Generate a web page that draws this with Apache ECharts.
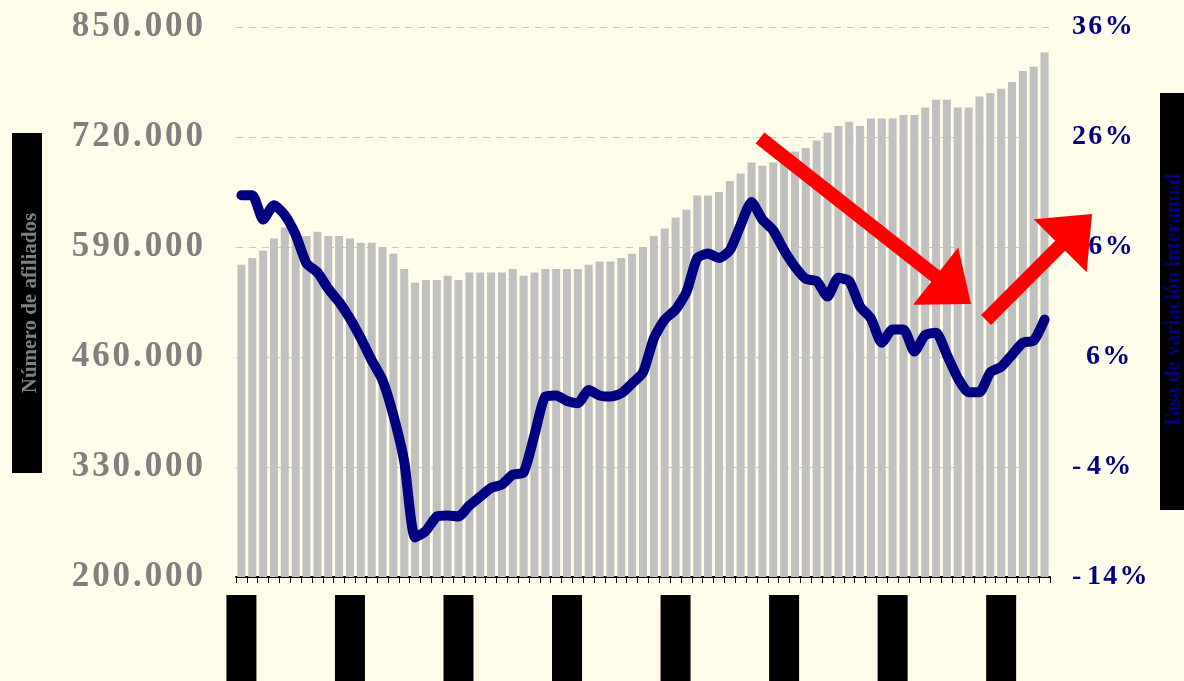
<!DOCTYPE html>
<html>
<head>
<meta charset="utf-8">
<script src="https://cdn.jsdelivr.net/npm/echarts@6/dist/echarts.min.js"></script>
<style>
  html, body { margin: 0; padding: 0; background: #FFFCEA; }
  #grafico { width: 1184px; height: 681px; }
</style>
</head>
<body>
<div id="grafico"></div>
<script>
// meses (las etiquetas del eje aparecen tapadas)
const categorias = [
  'ene-03','feb-03','mar-03','abr-03','may-03','jun-03','jul-03','ago-03','sep-03','oct-03','nov-03','dic-03',
  'ene-04','feb-04','mar-04','abr-04','may-04','jun-04','jul-04','ago-04','sep-04','oct-04','nov-04','dic-04',
  'ene-05','feb-05','mar-05','abr-05','may-05','jun-05','jul-05','ago-05','sep-05','oct-05','nov-05','dic-05',
  'ene-06','feb-06','mar-06','abr-06','may-06','jun-06','jul-06','ago-06','sep-06','oct-06','nov-06','dic-06',
  'ene-07','feb-07','mar-07','abr-07','may-07','jun-07','jul-07','ago-07','sep-07','oct-07','nov-07','dic-07',
  'ene-08','feb-08','mar-08','abr-08','may-08','jun-08','jul-08','ago-08','sep-08','oct-08','nov-08','dic-08',
  'ene-09','feb-09','mar-09'
];

// barras: miles
const afiliados = [
  569, 577, 586, 600, 613, 608, 603, 608, 603, 603,
  600, 595, 595, 590, 582, 564, 548, 551, 551, 556,
  551, 560, 560, 560, 560, 564, 556, 560, 564, 564,
  564, 564, 569, 573, 573, 577, 582, 590, 603, 612,
  625, 634, 651, 651, 655, 668, 677, 690, 686, 690,
  697, 703, 707, 716, 725, 733, 738, 733, 742, 742,
  742, 746, 746, 755, 764, 764, 755, 755, 768, 772,
  777, 785, 798, 803, 820
];

// linea: % interanual
const variacion = [
  20.7, 20.7, 18.5, 19.8, 18.9, 17.1, 14.5, 13.7, 12.2, 11.0,
  9.5, 7.7, 5.7, 3.9, 0.7, -3.5, -10.4, -9.8, -8.5, -8.4,
  -8.5, -7.5, -6.7, -5.9, -5.6, -4.7, -4.5, -1.1, 2.4, 2.5,
  2.0, 1.8, 3.0, 2.5, 2.4, 2.7, 3.6, 4.6, 7.7, 9.4,
  10.3, 11.9, 15.0, 15.4, 15.0, 15.7, 18.0, 20.1, 18.5, 17.5,
  15.7, 14.2, 13.1, 12.9, 11.5, 13.2, 12.9, 10.6, 9.5, 7.3,
  8.5, 8.5, 6.5, 8.0, 8.2, 6.2, 4.1, 2.8, 2.8, 4.6,
  5.1, 6.2, 7.3, 7.5, 9.4
];

// escalas de los ejes
const ejeIzq = [200, 850, 130];
const ejeDer = [-14, 36, 10];

const HAIR = '\u200A';
const espaciar = s => s.split('').join(HAIR);

// flecha como poligono
function flecha(x1, y1, x2, y2, ancho, anchoPunta, largoPunta) {
  const dx = x2 - x1, dy = y2 - y1;
  const l = Math.sqrt(dx * dx + dy * dy);
  const ux = dx / l, uy = dy / l;
  const nx = -uy, ny = ux;
  const bx = x2 - ux * largoPunta, by = y2 - uy * largoPunta;
  const p = (x, y, k) => [x + nx * k, y + ny * k];
  return {
    type: 'polygon',
    z: 100,
    shape: {
      points: [
        p(x1, y1, ancho / 2), p(bx, by, ancho / 2), p(bx, by, anchoPunta / 2),
        [x2, y2],
        p(bx, by, -anchoPunta / 2), p(bx, by, -ancho / 2), p(x1, y1, -ancho / 2)
      ]
    },
    style: { fill: '#FF0000' }
  };
}

const chart = echarts.init(document.getElementById('grafico'));

const option = {
  backgroundColor: '#FFFCEA',
  animation: false,
  title: {
    text: '(Afiliados a la Seguridad Social y tasa de variación interanual)',
    left: 243,
    top: -34,
    textStyle: {
      fontFamily: 'Liberation Serif',
      fontWeight: 'bold',
      fontSize: 29,
      color: '#000'
    }
  },
  grid: { left: 236, right: 134, top: 27, bottom: 104, outerBoundsMode: 'none', containLabel: false },
  xAxis: {
    type: 'category',
    data: categorias,
    boundaryGap: true,
    axisLine: { show: true, onZero: false, lineStyle: { color: '#000', width: 2 } },
    axisTick: { show: true, interval: 0, length: 6, lineStyle: { color: '#000', width: 1 } },
    axisLabel: {
      interval: 9,
      rotate: 90,
      margin: 18,
      fontFamily: 'Liberation Sans',
      fontSize: 18,
      lineHeight: 20,
      color: '#000',
      backgroundColor: '#000',
      padding: [5, 4, 5, 40]
    },
    splitLine: { show: false }
  },
  yAxis: [
    {
      type: 'value',
      min: ejeIzq[0],
      max: ejeIzq[1],
      interval: ejeIzq[2],
      axisLine: { show: false },
      axisTick: { show: false },
      axisLabel: {
        margin: 33,
        fontFamily: 'Liberation Serif',
        fontWeight: 'bold',
        fontSize: 35,
        color: '#808080',
        formatter: v => espaciar(String(v) + '.000')
      },
      splitLine: { show: true, lineStyle: { color: '#C8C8C8', width: 1, type: [7, 6] } }
    },
    {
      type: 'value',
      min: ejeDer[0],
      max: ejeDer[1],
      interval: ejeDer[2],
      axisLine: { show: false },
      axisTick: { show: false },
      axisLabel: {
        margin: 22,
        fontFamily: 'Liberation Serif',
        fontWeight: 'bold',
        fontSize: 28,
        color: '#000080',
        formatter: v => {
          const n = Math.round(v);
          if (n < 0) return '-\u2009' + espaciar(String(-n) + '%');
          if (n < 10) return '\u2007' + espaciar(String(n) + '%');
          return espaciar(String(n) + '%');
        }
      },
      splitLine: { show: false }
    }
  ],
  graphic: [
    // titulos de eje (tapados en el original)
    { type: 'rect', shape: { x: 12, y: 133, width: 30, height: 340 }, style: { fill: '#000' } },
    {
      type: 'text', x: 31, y: 303, rotation: Math.PI / 2,
      style: {
        text: 'Número de afiliados', fill: '#808080', align: 'center', verticalAlign: 'middle',
        font: 'bold 21px "Liberation Serif"'
      }
    },
    { type: 'rect', shape: { x: 1160, y: 93, width: 30, height: 417 }, style: { fill: '#000' } },
    {
      type: 'text', x: 1174, y: 301, rotation: Math.PI / 2,
      style: {
        text: 'Tasa de variación interanual', fill: '#000080', align: 'center', verticalAlign: 'middle',
        font: 'bold 21px "Liberation Serif"'
      }
    },
    flecha(760, 138, 971, 304, 14, 73, 45),
    flecha(986, 320, 1092, 214, 14, 75, 45)
  ],
  series: [
    {
      name: 'Afiliados',
      type: 'bar',
      yAxisIndex: 0,
      data: afiliados,
      barWidth: 8,
      itemStyle: { color: '#C0C0C0' },
      z: 2
    },
    {
      name: 'Variación interanual',
      type: 'line',
      yAxisIndex: 1,
      data: variacion,
      symbol: 'none',
      smooth: 0.2,
      lineStyle: { color: '#000080', width: 10, cap: 'round', join: 'round' },
      z: 5
    }
  ]
};

chart.setOption(option);

window.addEventListener('resize', function() {
  chart.resize();
});
</script>
</body>
</html>
